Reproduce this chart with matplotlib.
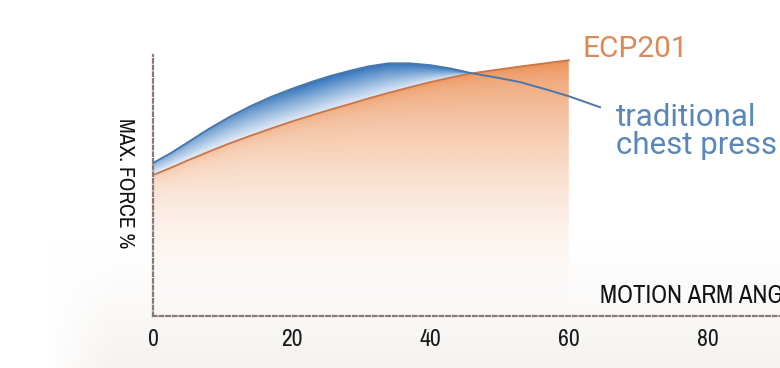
import numpy as np
import matplotlib
matplotlib.use('Agg')
import matplotlib.pyplot as plt
from matplotlib import font_manager
from matplotlib.patches import Polygon

# values (angle in degrees, force in %)
ecp_angle = [0, 2.5, 5, 8, 11, 14, 17, 20, 23, 25.5, 28.5, 31, 34, 37, 40, 43, 46, 53, 60]
ecp_force = [54, 56.7, 59.6, 62.9, 66.1, 69, 71.8, 74.5, 77, 79, 81.3, 83.3, 85.5,
             87.6, 89.6, 91.4, 93.0, 95.6, 98]
trad_angle = [0, 2.5, 5, 8, 11, 14, 17, 20, 23, 25.5, 28.5, 31, 34, 37, 40, 43, 46,
              49.5, 53, 57, 60, 64.5]
trad_force = [58.6, 62.3, 66.5, 71.6, 76.2, 80.3, 83.9, 87, 89.8, 91.9, 94, 95.6,
              96.8, 96.8, 96.1, 94.8, 93.0, 91.4, 89.6, 86.6, 84.2, 80]
angle_ticks = [0, 20, 40, 60, 80]

# look for a narrow (regular weight) face for the axis texts
narrow = None
best = -1
for f in font_manager.fontManager.ttflist:
    key = (f.name + ' ' + str(f.stretch) + ' ' + f.fname).lower()
    if not ('narrow' in key or 'condensed' in key):
        continue
    if 'oblique' in key or 'italic' in key:
        continue
    score = 0
    if 'bold' not in f.fname.lower():
        score += 2
    if 'narrow' in key:
        score += 1
    if score > best:
        best, narrow = score, f.fname

def axis_font(size):
    if narrow:
        return font_manager.FontProperties(fname=narrow, size=size)
    return font_manager.FontProperties(family='Roboto', size=size * 0.85)

fig = plt.figure(figsize=(7.8, 3.68), dpi=100)

# soft beige background toward the bottom
bg_ax = fig.add_axes([0, 0, 1, 1], zorder=0)
bg_ax.axis('off')
yy, xx = np.mgrid[0:368, 0:780]
tint = np.clip((yy - 240) / 128.0, 0, 1) ** 1.3 * np.clip((xx - 45) / 70.0, 0, 1)
bg = np.ones((368, 780, 3))
bg[..., 0] -= tint * 0.04
bg[..., 1] -= tint * 0.052
bg[..., 2] -= tint * 0.064
bg_ax.imshow(bg, extent=[0, 1, 0, 1], aspect='auto', origin='upper')
bg_ax.set_xlim(0, 1)
bg_ax.set_ylim(0, 1)

ax = fig.add_axes([0, 0, 1, 1], zorder=1)
ax.patch.set_alpha(0)
ax.set_xlim(-22.08, 90.48)
ax.set_ylim(-19.92, 121.07)

# orange area under ECP201 with vertical fade
gx = np.linspace(0, 60, 400)
gy = np.linspace(0, 100, 400)
GX, GY = np.meshgrid(gx, gy)
top = np.interp(gx, ecp_angle, ecp_force)[None, :]
a = np.clip(GY / 100.0, 0, 1) ** 1.8 * 0.92
a = a + 0.18 * np.exp(-np.clip(top - GY, 0, None) / 3.0)
a = np.clip(a, 0, 1)
orange = np.array([236, 146, 88]) / 255.0
img = np.ones((400, 400, 4))
for k in range(3):
    img[..., k] = orange[k]
img[..., 3] = a
im = ax.imshow(img, extent=[0, 60, 0, 100], origin='lower', aspect='auto',
               interpolation='bilinear', zorder=2)
opoly = Polygon([(0, 0)] + list(zip(ecp_angle, ecp_force)) + [(60, 0)],
                closed=True, facecolor='none', edgecolor='none')
ax.add_patch(opoly)
im.set_clip_path(opoly)

# blue band where the traditional curve is above ECP201
ecp_on_trad = np.interp(trad_angle, ecp_angle, ecp_force)
band = ax.fill_between(trad_angle, ecp_on_trad, trad_force,
                       where=np.array(trad_force) >= ecp_on_trad,
                       interpolate=True, facecolor='none', edgecolor='none')
bx = np.linspace(0, 50, 400)
by = np.linspace(50, 100, 400)
BX, BY = np.meshgrid(bx, by)
lo = np.interp(bx, ecp_angle, ecp_force)[None, :]
hi = np.interp(bx, trad_angle, trad_force)[None, :]
t = np.clip((BY - lo) / np.maximum(hi - lo, 0.5), 0, 1)
s = 0.55 + 0.45 * np.clip(BX / 22.0, 0, 1)
w = np.clip((0.12 + 0.88 * t ** 1.1) * s, 0, 1)
light = np.array([248, 251, 255]) / 255.0
dark = np.array([52, 118, 190]) / 255.0
bimg = np.ones((400, 400, 4))
for k in range(3):
    bimg[..., k] = light[k] + (dark[k] - light[k]) * w
bim = ax.imshow(bimg, extent=[0, 50, 50, 100], origin='lower', aspect='auto',
                interpolation='bilinear', zorder=3)
bim.set_clip_path(band.get_paths()[0], transform=ax.transData)

ax.plot(ecp_angle, ecp_force, color='#c8754a', lw=1.3, zorder=4,
        solid_joinstyle='round')
ax.plot(trad_angle, trad_force, color='#4a78aa', lw=1.4, zorder=5,
        solid_joinstyle='round')

# dotted axes
for side in ['top', 'right']:
    ax.spines[side].set_visible(False)
for side in ['left', 'bottom']:
    ax.spines[side].set_position(('data', 0))
    ax.spines[side].set_linestyle((0, (1.6, 1.4)))
    ax.spines[side].set_linewidth(1.6)
    ax.spines[side].set_color('#8c7878')
    ax.spines[side].set_zorder(6)
ax.spines['left'].set_bounds(0, 100)
ax.spines['bottom'].set_bounds(0, 95)

ax.set_yticks([])
ax.set_xticks(angle_ticks)
ax.set_xticklabels([str(v) for v in angle_ticks])
ax.tick_params(axis='x', length=0, pad=9, labelcolor='#1a1a1a')
for lab in ax.get_xticklabels():
    lab.set_fontproperties(axis_font(17))

ax.text(-4.0, 51, 'MAX. FORCE %', rotation=270, ha='center', va='center',
        color='#111111', fontproperties=axis_font(15.5))
ax.text(64.5, 4.8, 'MOTION ARM ANGLE', ha='left', va='baseline',
        color='#111111', fontproperties=axis_font(18))

ax.text(62.0, 99.2, 'ECP201', ha='left', va='baseline', fontsize=21.5,
        color='#d98a58', family='Roboto')
ax.text(66.8, 62.0, 'traditional\nchest press', ha='left', va='baseline',
        fontsize=22.5, linespacing=0.98, color='#5a86b8', family='Roboto')

fig.savefig('out.png', dpi=100)
